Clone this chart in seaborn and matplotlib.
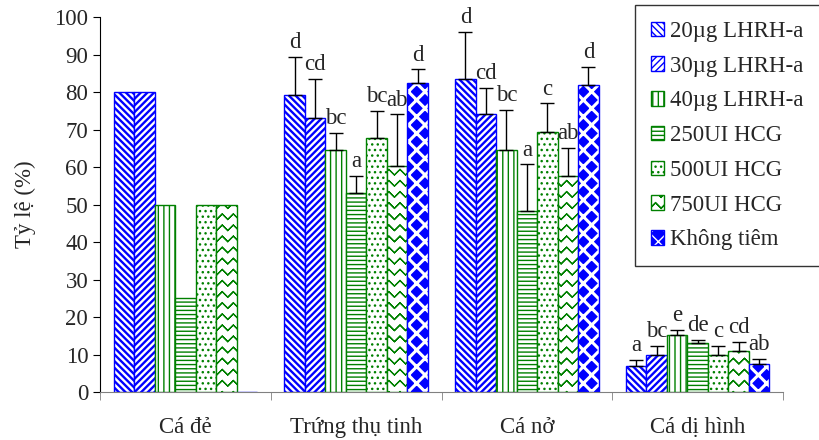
import warnings
import numpy as np
import pandas as pd
import matplotlib
matplotlib.use("Agg")
import matplotlib.pyplot as plt
from matplotlib import hatch as mhatch
from matplotlib.path import Path
from matplotlib.colors import to_rgba
import seaborn as sns

warnings.filterwarnings("ignore")

# data
categories = ["Cá đẻ", "Trứng thụ tinh", "Cá nở", "Cá dị hình"]
treatments = ["20µg LHRH-a", "30µg LHRH-a", "40µg LHRH-a", "250UI HCG",
              "500UI HCG", "750UI HCG", "Không tiêm"]
values = {
    "20µg LHRH-a": [80, 79.2, 83.6, 6.9],
    "30µg LHRH-a": [80, 73.0, 74.3, 9.8],
    "40µg LHRH-a": [50, 64.5, 64.5, 15.1],
    "250UI HCG":   [25, 53.1, 48.3, 13.0],
    "500UI HCG":   [50, 67.8, 69.4, 10.0],
    "750UI HCG":   [50, 60.4, 57.6, 10.9],
    "Không tiêm":  [0, 82.5, 81.9, 7.4],
}
errors = {
    "20µg LHRH-a": [np.nan, 10.2, 12.5, 1.6],
    "30µg LHRH-a": [np.nan, 10.6, 6.9, 2.5],
    "40µg LHRH-a": [np.nan, 4.6, 10.7, 1.4],
    "250UI HCG":   [np.nan, 4.5, 12.4, 0.9],
    "500UI HCG":   [np.nan, 7.2, 7.6, 2.3],
    "750UI HCG":   [np.nan, 13.7, 7.5, 2.5],
    "Không tiêm":  [np.nan, 3.6, 4.9, 1.4],
}
letters = {
    "20µg LHRH-a": ["", "d", "d", "a"],
    "30µg LHRH-a": ["", "cd", "cd", "bc"],
    "40µg LHRH-a": ["", "bc", "bc", "e"],
    "250UI HCG":   ["", "a", "a", "de"],
    "500UI HCG":   ["", "bc", "c", "c"],
    "750UI HCG":   ["", "ab", "ab", "cd"],
    "Không tiêm":  ["", "d", "d", "ab"],
}


# zigzag hatch ('z') for the 750UI bars; each row retraces itself so
# that the filled area of the hatch path stays empty
class ZigZagHatch(mhatch.HatchPatternBase):
    def __init__(self, hatch, density):
        self.num_rows = int(hatch.count("z") * density * 1.5)
        self.segs = 2 * self.num_rows
        n = self.segs + 1
        self.per_row = 2 * n - 1
        self.num_vertices = self.num_rows * self.per_row

    def set_vertices_and_codes(self, vertices, codes):
        if self.num_rows == 0:
            return
        n = self.segs + 1
        xs = np.linspace(0, 1, n)
        amp = 0.25 / self.num_rows
        xs_full = np.concatenate([xs, xs[-2::-1]])
        sign = np.where(np.arange(n) % 2 == 0, 1, -1)
        sign_full = np.concatenate([sign, sign[-2::-1]])
        m = self.per_row
        for k in range(self.num_rows):
            y0 = (k + 0.5) / self.num_rows
            vertices[k * m:(k + 1) * m, 0] = xs_full
            vertices[k * m:(k + 1) * m, 1] = y0 + amp * sign_full
            codes[k * m] = Path.MOVETO
            codes[k * m + 1:(k + 1) * m] = Path.LINETO


mhatch._hatch_types.append(ZigZagHatch)

rows = []
for t in treatments:
    for c, v in zip(categories, values[t]):
        rows.append({"cat": c, "treat": t, "val": v})
df = pd.DataFrame(rows)

sns.set_style("white")
plt.rcParams["font.family"] = ["Liberation Serif", "DejaVu Serif"]
plt.rcParams["hatch.linewidth"] = 1.0

blue = "#0000FF"
green = "#008000"
# face, edge, hatch, hatch linewidth
styles = {
    "20µg LHRH-a": ("white", blue, "\\" * 5, 1.7),
    "30µg LHRH-a": ("white", blue, "/" * 5, 1.7),
    "40µg LHRH-a": ("white", green, "|||", 1.0),
    "250UI HCG":   ("white", green, "----", 1.0),
    "500UI HCG":   ("white", green, "...", 1.0),
    "750UI HCG":   ("white", green, "z", 0.9),
    "Không tiêm":  (blue, blue, "xx", 2.2),
}

FS = 16.5

fig = plt.figure(figsize=(8.2, 4.4), dpi=100)
ax = fig.add_axes([0.122, 0.109, 0.833, 0.852])

sns.barplot(data=df, x="cat", y="val", hue="treat", order=categories,
            hue_order=treatments, width=0.84, gap=0, errorbar=None,
            legend=False, ax=ax)

handles = []
for cont, t in zip(ax.containers, treatments):
    face, edge, hatch, hlw = styles[t]
    for i, p in enumerate(cont.patches):
        p.set_facecolor(face)
        p.set_edgecolor(edge)
        p.set_hatch(hatch)
        p.set_linewidth(1.0)
        if hasattr(p, "set_hatch_linewidth"):
            p.set_hatch_linewidth(hlw)
        if t == "Không tiêm":
            p._hatch_color = to_rgba("white")
        x = p.get_x() + p.get_width() / 2
        top = p.get_height()
        err = errors[t][i]
        if not np.isnan(err):
            ax.errorbar(x, top, yerr=[[0], [err]], fmt="none", ecolor="black",
                        elinewidth=1.0, capsize=5, capthick=1.0, zorder=3)
            ax.text(x, top + err + 1.0, letters[t][i], ha="center", va="bottom",
                    fontsize=FS)
    handles.append(cont.patches[0])

ax.set_ylim(0, 100)
ax.set_xlim(-0.5, 3.5)
ax.set_yticks(range(0, 101, 10))
ax.set_xlabel("")
ax.set_ylabel("Tỷ lệ (%)", fontsize=FS, labelpad=13)
ax.tick_params(axis="y", labelsize=FS, length=5, color="black", direction="out", left=True)
ax.tick_params(axis="x", labelsize=FS, length=0, pad=18)
ax.set_xticks([-0.5, 0.5, 1.5, 2.5, 3.5], minor=True)
ax.tick_params(axis="x", which="minor", length=6, color="#808080", bottom=True)
sns.despine(ax=ax)
ax.spines["left"].set_color("black")
ax.spines["bottom"].set_color("#808080")

leg = fig.legend(handles, treatments, loc="upper right",
                 bbox_to_anchor=(1.0, 0.989), borderaxespad=0, fontsize=FS,
                 frameon=True, fancybox=False, edgecolor="black",
                 handlelength=0.55, handleheight=0.6, handletextpad=0.3,
                 labelspacing=0.6, borderpad=0.7)
leg.get_frame().set_linewidth(1.0)

fig.savefig("out.png", dpi=100)
